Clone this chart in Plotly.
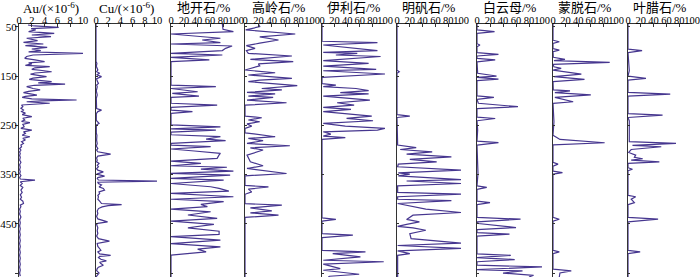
import plotly.graph_objects as go

# ---------------- data (depth, value) ----------------
titles = ["Au/(×10<sup>-6</sup>)", "Cu/(×10<sup>-6</sup>)", "地开石/%", "高岭石/%", "伊利石/%",
          "明矾石/%", "白云母/%", "蒙脱石/%", "叶腊石/%"]
ppm_ticks = [0, 2, 4, 6, 8, 10]
pct_ticks = [0, 20, 40, 60, 80, 100]
depth_ticks = [50, 150, 250, 350, 450, 550]

au = [(46,1.4),(48,2.4),(50.7,6.2),(53.4,1.9),(56,2.6),(59.5,1.5),(63,5.5),(66.3,2.0),(69.7,5.0),(73,1.2),
      (77.8,2.9),(81.2,0.7),(84.6,3.8),(88,1.0),(91.4,4.4),(94.8,2.0),(98,3.4),(100.5,1.5),(103.5,10.3),(107,2.2),
      (110,1.2),(113.7,0.9),(117,2.5),(120.5,4.0),(123,1.5),(125,2.0),(128,1.0),(130.6,4.8),(133,2.5),(136,2.0),
      (138.5,3.6),(141,5.1),(143.5,2.5),(146,1.8),(148.5,3.0),(151,4.3),(154,2.2),(156.4,1.6),(159,3.5),(161,5.1),
      (163.5,3.0),(166,7.2),(168.5,2.4),(171.3,1.2),(175,2.2),(178,3.3),(181,1.5),(183.5,0.7),(186,1.8),(188.3,2.8),
      (191,1.0),(193,0.5),(196,2.0),(198.4,9.0),(200,3.5),(202,1.2),(205,4.8),(208.6,0.4),(212,0.6),(215,0.3),
      (218.8,0.7),(222,0.4),(225,1.0),(228,0.5),(232.3,2.0),(235.5,0.6),(239,0.9),(242,0.4),(244.5,1.7),(248,0.6),
      (252.7,0.8),(256,0.3),(259.5,2.0),(263,0.7),(266.2,1.0),(270,0.5),(273,1.7),(276.5,0.6),(279.8,1.0),(283,0.4),
      (286.6,0.7),(290,0.3),(293.4,0.4),(297,0.1),(300,0.3),(304,0.1),(307,0.2),(311,0.1),(315,0.2),(320.5,0.1),
      (325,0.3),(330,0.1),(335,0.2),(340,0.1),(344,0.2),(347.6,0.1),(352,0.3),(356,0.1),(359,0.2),(361,2.5),
      (364.5,0.2),(368,0.5),(372,0.2),(376,0.6),(381.5,0.3),(386,0.5),(391,0.2),(396,0.4),(400,0.2),(404,0.6),
      (408.6,0.7),(412,0.2),(415.4,0.3),(420,0.1),(425,0.2),(430,0.1),(436,0.3),(442,0.1),(448,0.2),(454,0.1),
      (460,0.2),(466,0.1),(472,0.2),(478,0.1),(484,0.2),(490,0.1),(496,0.2),(502,0.1),(508,0.2),(514,0.1),
      (520,0.2),(526,0.1),(532,0.2),(538,0.1),(544,0.2),(550,0.1),(556,0.2)]

cu = [(44,0),(120,0),(124,0.15),(130,0.05),(137.5,0.3),(141,0.1),(144,0.6),(147,0.1),(151,0.9),(155,0.1),
      (160,0.2),(164.6,0.4),(168,0.1),(171.4,0.2),(180,0.05),(188,0.2),(195,0.05),(210,0.05),(216,0.1),(219,0.9),
      (222,0.3),(226,0.05),(240,0.05),(246,0.5),(249,0.05),(265,0.05),(270,0.15),(280,0.1),(287,0.2),(292,0.05),
      (297,0.3),(300,0.1),(303.6,0.3),(308.4,2.4),(312.4,0.3),(316,0.1),(320.6,0.2),(324,0.1),(327,0.5),(331,0.2),
      (334,0.4),(338,0.1),(341,0.3),(344.3,1.2),(347,0.3),(349,0.1),(353,1.4),(356,0.3),(358,0.2),(361,0.4),
      (363.3,10),(365.5,0.3),(368,0.4),(371,0.9),(375,0.5),(378,1.2),(381.6,1.4),(385,0.5),(388.4,0.6),(392,0.3),
      (395,0.4),(400,0.3),(404,0.6),(408.7,0.9),(411,4.2),(413,2.0),(415.5,1.0),(419,0.4),(424,0.2),(429,0.3),
      (435,0.1),(440,0.3),(446,1.9),(449,0.3),(451,0.1),(458,0.3),(464,0.2),(469.7,0.3),(475,0.1),(480,0.4),
      (485,2.2),(488,0.5),(490,0.2),(496,0.3),(500,0.5),(503.6,0.8),(507,0.3),(511,0.6),(514,2.4),(516,0.6),
      (518.5,0.4),(522,0.8),(525.3,1.7),(528,0.6),(530.7,0.8),(534,1.2),(538,0.4),(541,0.2),(545,0.1),(550,0.5),
      (554.5,0.2),(558,0)]

dickite = [(44,79),(49.4,79),(54.8,80),(59.5,96),(64.3,0),(73,76),(76.5,48),(82,76),(84.6,0),(88.7,94),
           (93.4,84),(98,79),(103.6,0),(107,79),(112,0),(117,59),(120.5,0),(168,0),(171.4,69),(175,0),
           (181.6,41),(185,2),(190.4,43),(193,0),(205,0),(208.7,71),(213.4,0),(219,0),(222,33),(225.6,0),
           (249,0),(252.8,76),(257,0),(259.5,69),(263.6,0),(269,0),(273,76),(277.9,54),(281,84),(286.7,0),
           (290,0),(293,61),(298,0),(302,36),(307,76),(310,74),(317,71),(322.5,0),(327,46),(332,0),
           (335,86),(339,46),(343,96),(347.5,0),(351,91),(357.7,0),(361,81),(368,0),(374.6,61),(378,74),
           (383.5,89),(388,0),(395,96),(400,0),(405,81),(410.6,46),(415,56),(420,0),(425.5,61),(432,26),
           (439,71),(444.5,0),(451,66),(458,26),(465,74),(471.6,74),(476,0),(483,76),(490,0),(496.7,76),
           (501.4,41),(507,54),(513.6,0),(558,0)]

kaolinite = [(44,20),(49.4,22),(56,1),(64.3,75),(70,22),(76.5,50),(83,22),(88,2),(93.4,15),(98,2),
             (103.6,5),(109,70),(116,8),(120.5,72),(125,20),(129,22),(137.5,0),(143,45),(147.6,5),(154.5,70),
             (158,22),(161,5),(169.4,78),(175,25),(178,55),(183,3),(186,45),(190.4,5),(193,42),(198.5,3),
             (204,62),(209,0),(231,0),(234.5,25),(239,5),(242.6,22),(247,3),(251.4,10),(256,0),(265,0),
             (273,45),(276.5,5),(281,27),(286.7,3),(291.4,67),(295.5,8),(300,27),(305.6,12),(310.4,3),(324,8),
             (327,15),(332,27),(337.5,3),(347.7,62),(352.4,0),(372,0),(375,35),(379.5,5),(385,10),(390,0),
             (409,0),(412,55),(417.5,8),(423.6,40),(427.7,8),(432.4,50),(437,0),(558,0)]

illite = [(44,0),(79,0),(82,88),(86.7,2),(98,88),(101.6,2),(103.6,56),(107,22),(110,93),(116,27),
          (118.5,2),(124,74),(129.4,2),(136,86),(139,2),(145.6,100),(149.7,27),(152.4,0),(165,0),(168,22),
          (171.4,2),(175,54),(179.5,74),(183.6,29),(186,74),(190.4,2),(198.5,76),(204,24),(208.7,51),(213.4,2),
          (217.5,46),(222,2),(231,79),(235.8,39),(240.6,81),(246,2),(251.4,37),(256,100),(259.5,88),(263,2),
          (267.7,14),(271.7,2),(275,37),(278.5,0),(438,0),(441,22),(444.6,0),(470,0),(473,49),(478,0),
          (504,0),(507,69),(510.4,17),(517,61),(524,2),(527,98),(532,2),(541,29),(544.3,2),(552.4,59),
          (556.5,12),(558,10)]

alunite = [(44,0),(138,0),(141,3.5),(144,0),(228,0),(231,20),(234,0),(288,0),(290,1),(295,30),
           (299,5),(303.6,55),(308.4,15),(313.8,85),(319,20),(324,62),(328.7,2),(334,1),(341,100),(346.3,2),
           (349,20),(352.4,2),(360,100),(363,15),(368,100),(372.8,1),(386,1),(389.7,100),(395,1),(400,1),
           (403,85),(408.7,1),(415.5,25),(420,45),(427,100),(432.4,25),(441,15),(446,35),(451,15),(455,1),
           (458.2,25),(463,45),(470,20),(480,22),(489,100),(494,1),(500,100),(505,1),(510.4,20),(514,1),
           (558,1)]

muscovite = [(44,0),(56,0),(59.5,27),(63,0),(84,0),(86.7,4.5),(90,0),(102,0),(105.6,33),(109,0),
             (114,0),(117,28),(121,0),(144,1),(149.7,30),(152.4,0),(155.8,33),(159,0),(190,0),(193,26),
             (197,0),(205,2),(212,63),(216,0),(233,0),(236,28),(240.6,0),(259.5,1),(282,0),(285,33),
             (290,0),(347.7,1.5),(373,0),(376,15),(380,0),(404,0),(407,20),(411,0),(437,0),(440.6,67),
             (446,0),(449.4,2),(457.5,60),(461.6,0),(468,0),(471,50),(475,0),(511,0),(514,52),(518.5,0),
             (522.6,58),(527,0),(534,0),(537.5,100),(543,0),(545.7,70),(550,40),(554.5,87),(558,80)]

montmorillonite = [(44,0),(77,0),(80,10),(83.3,0),(94,0),(97,10),(100,0),(111.7,0.5),(116,19),(118.5,1.5),
                   (122,90),(126,0),(131,1.5),(134,13),(137.5,0),(146,45),(151,1.5),(156.5,50),(161,0),(178,0.5),
                   (180,27),(183.6,3),(188,60),(193,3),(202,32),(205.3,0),(242.6,1.5),(270,0),(274.5,6),(278.5,11),
                   (285.3,82),(289.4,0),(325,0),(328.7,8),(333,0),(343,0),(346,15),(349,0),(437,0),(440.6,10),
                   (444.6,0),(504,0),(507,10),(510.4,0),(542,0),(545.7,29),(549.7,11),(558,10)]

pyrophyllite = [(44,0),(95,0),(98,22),(102,0),(139,2),(150,0),(154.5,28),(158,0),(183,0),(186.3,66),
                (190.4,0),(226,0),(229,54),(234,0),(241,2),(280,2),(283,2),(286.7,75),(290.7,7),(293.4,52),
                (299,5),(305,1),(310.4,12),(315,10),(317.8,23),(320.6,5),(324,49),(327.3,0),(336,0),(339,7),
                (342,0),(392,0),(395,12),(400,5),(407,10),(411,0),(437,0),(440.6,47),(446,0),(504,0),
                (507,19),(510.4,0),(558,0)]

series = [au, cu, dickite, kaolinite, illite, alunite, muscovite, montmorillonite, pyrophyllite]

# ---------------- layout ----------------
W, H = 700, 277
panels_px = [(19, 83), (96, 157), (171, 236), (245, 312), (322, 385),
             (397, 461), (477, 542), (553, 616), (628, 692)]
top_px = 24
line_color = "#46368f"
serif = "Liberation Serif, Times New Roman, serif"
cjk = "Liberation Serif, Noto Sans CJK SC, serif"

fig = go.Figure()
layout = dict(width=W, height=H, margin=dict(l=0, r=0, t=0, b=0),
              paper_bgcolor="white", plot_bgcolor="white", showlegend=False)
annotations = []
ydom = [0.0, 1 - top_px / H]
for i, (data, (x0, x1)) in enumerate(zip(series, panels_px)):
    k = "" if i == 0 else str(i + 1)
    depths = [d for d, v in data]
    vals = [v for d, v in data]
    fig.add_trace(go.Scatter(x=vals, y=depths, mode="lines",
                             line=dict(color=line_color, width=1.2),
                             xaxis="x" + k, yaxis="y" + k, hoverinfo="skip"))
    ticks = ppm_ticks if i < 2 else pct_ticks
    layout["xaxis" + k] = dict(domain=[x0 / W, x1 / W], anchor="y" + k, side="top",
                               range=[0, ticks[-1]], tickvals=ticks, ticks="inside", ticklen=3,
                               tickcolor="#333", showline=True, linecolor="#333", linewidth=1,
                               showgrid=False, zeroline=False, automargin=False, tickangle=0,
                               ticklabelstandoff=-5,
                               tickfont=dict(family=serif, size=10.5, color="black"))
    ya = dict(domain=ydom, anchor="x" + k, range=[558, 44], tickvals=depth_ticks,
              showline=True, linecolor="#333", linewidth=1, showgrid=False, zeroline=False,
              automargin=False, tickcolor="#333")
    if i == 0:
        ya.update(ticks="outside", ticklen=3, showticklabels=True, ticklabelstandoff=-4,
                  tickfont=dict(family=serif, size=11, color="black"))
    else:
        ya.update(ticks="inside", ticklen=2, showticklabels=False)
    layout["yaxis" + k] = ya
    annotations.append(dict(text=titles[i], x=(x0 + x1) / 2 / W, y=1 - 8 / H,
                            xref="paper", yref="paper", xanchor="center", yanchor="middle",
                            showarrow=False, font=dict(family=cjk, size=13, color="black")))
layout["annotations"] = annotations
fig.update_layout(**layout)
fig.write_html("out.html", config={"displayModeBar": False, "staticPlot": True},
               post_script="document.body.style.margin='0';document.body.style.overflow='hidden';")
